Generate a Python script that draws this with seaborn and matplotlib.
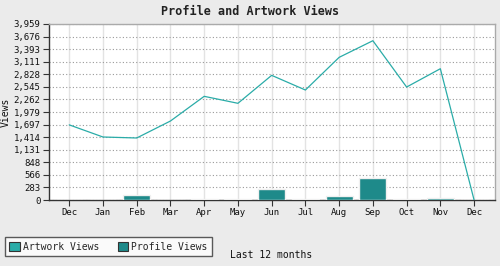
import matplotlib
matplotlib.use("Agg")
import matplotlib.pyplot as plt
from matplotlib.patches import Patch
import seaborn as sns
import pandas as pd
import numpy as np

months = ["Dec", "Jan", "Feb", "Mar", "Apr", "May", "Jun", "Jul", "Aug", "Sep", "Oct", "Nov", "Dec"]
artwork_views = [1690, 1417, 1395, 1777, 2332, 2175, 2804, 2474, 3209, 3583, 2541, 2953, 0]
profile_views = [0, 5, 119, 5, 30, 30, 254, 29, 97, 488, 25, 52, 0]
y_ticks = [0, 283, 566, 848, 1131, 1414, 1697, 1979, 2262, 2545, 2828, 3111, 3393, 3676, 3959]

line_color = "#2aaca8"
bar_color = "#1e8a8a"
bg = "#ebebeb"

df = pd.DataFrame({"pos": np.arange(len(months)), "month": months,
                   "artwork": artwork_views, "profile": profile_views})

sns.set_theme(style="white")
plt.rcParams["font.family"] = ["DejaVu Sans Mono"]

fig = plt.figure(figsize=(5, 2.66), dpi=100, facecolor=bg)
ax = fig.add_axes([49/500, 66/266, 446/500, 176/266])
ax.set_facecolor("white")

sns.barplot(data=df, x="pos", y="profile", color=bar_color, saturation=1,
            width=0.8, edgecolor="#f0f0f0", linewidth=1, ax=ax, zorder=3)
sns.lineplot(data=df, x="pos", y="artwork", color=line_color, linewidth=0.9,
             ax=ax, zorder=4)

ax.set_xlim(-0.6, 12.62)
ax.set_ylim(0, 3959)
ax.set_yticks(y_ticks)
ax.set_yticklabels([f"{v:,}" for v in y_ticks], fontsize=6.5)
ax.set_xticks(range(len(months)))
ax.set_xticklabels(months, fontsize=6.5)

ax.yaxis.grid(True, linestyle=(0, (1, 2)), color="#999999", linewidth=0.8, zorder=0)
ax.xaxis.grid(True, linestyle="-", color="#e3e3e3", linewidth=1, zorder=0)
ax.set_axisbelow(True)

for s in ["left", "bottom"]:
    ax.spines[s].set_color("#333333")
    ax.spines[s].set_linewidth(1)
for s in ["top", "right"]:
    ax.spines[s].set_color("#aaaaaa")
    ax.spines[s].set_linewidth(1)

ax.tick_params(axis="both", which="both", direction="out", length=4, width=0.8,
               color="#333333", labelcolor="#111111", pad=2)
ax.tick_params(left=True, bottom=True)

ax.set_xlabel("")
ax.set_ylabel("Views", fontsize=7, labelpad=2, color="#111111")

fig.text(0.5, 0.955, "Profile and Artwork Views", ha="center", va="center",
         fontsize=8.5, fontweight="bold", color="#222222")
fig.text(230/500, 1 - 255/266, "Last 12 months", ha="left", va="center", fontsize=7, color="#111111")

handles = [Patch(facecolor=line_color, edgecolor="#333333", linewidth=0.8, label="Artwork Views"),
           Patch(facecolor=bar_color, edgecolor="#333333", linewidth=0.8, label="Profile Views")]
leg = fig.legend(handles=handles, loc="lower left", bbox_to_anchor=(5/500, 10/266),
                 ncol=2, frameon=True, fancybox=False, fontsize=7,
                 handlelength=1.05, handleheight=1.05, handletextpad=0.35,
                 columnspacing=1.9, borderpad=0.45, borderaxespad=0)
leg.get_frame().set_edgecolor("#333333")
leg.get_frame().set_linewidth(1)
leg.get_frame().set_facecolor("white")

fig.savefig("out.png", dpi=100, facecolor=bg)
